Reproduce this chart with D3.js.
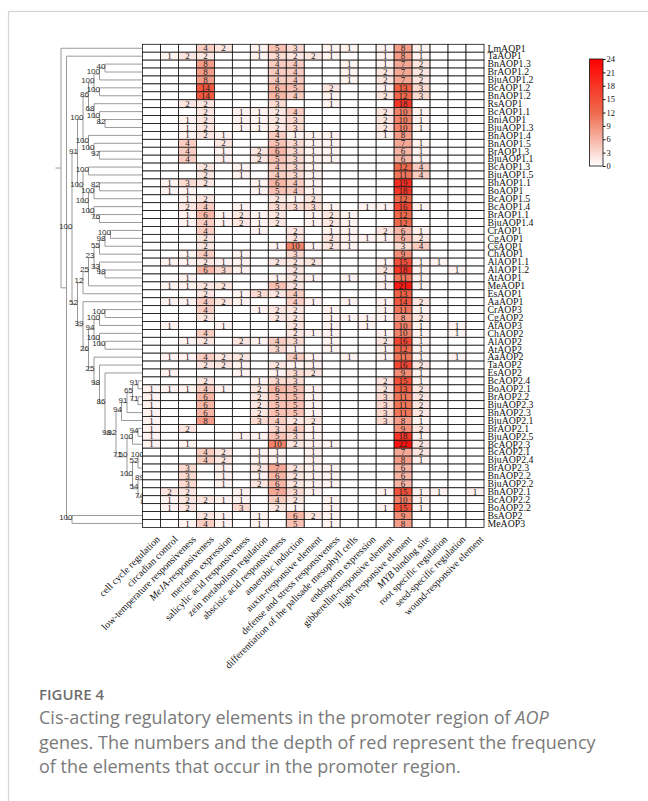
<!DOCTYPE html>
<html><head><meta charset="utf-8">
<script src="https://cdn.jsdelivr.net/npm/d3@7"></script>
<style>body{margin:0;background:#fff}svg{display:block}</style>
</head><body>
<svg id="c" width="648" height="801"></svg>
<script>
// ---------------- DATA ----------------
const genes = ["LmAOP1","TaAOP1","BnAOP1.3","BrAOP1.2","BjuAOP1.2","BcAOP1.2","BnAOP1.2","RsAOP1","BcAOP1.1","BniAOP1","BjuAOP1.3","BnAOP1.4","BnAOP1.5","BrAOP1.3","BjuAOP1.1","BcAOP1.3","BjuAOP1.5","BhAOP1.1","BoAOP1","BcAOP1.5","BcAOP1.4","BrAOP1.1","BjuAOP1.4","CrAOP1","CgAOP1","CsAOP1","ChAOP1","AlAOP1.1","AlAOP1.2","AtAOP1","MeAOP1","EsAOP1","AaAOP1","CrAOP3","CgAOP2","AtAOP3","ChAOP2","AlAOP2","AtAOP2","AaAOP2","TaAOP2","EsAOP2","BcAOP2.4","BoAOP2.1","BrAOP2.2","BjuAOP2.3","BnAOP2.3","BjuAOP2.1","BrAOP2.1","BjuAOP2.5","BcAOP2.3","BcAOP2.1","BjuAOP2.4","BrAOP2.3","BnAOP2.2","BjuAOP2.2","BnAOP2.1","BcAOP2.2","BoAOP2.2","BsAOP2","MeAOP3"];

const elements = ["cell cycle regulation","circadian control","low-temperature responsiveness","MeJA-responsiveness","meristem expression","salicylic acid responsiveness","zein metabolism regulation","abscisic acid responsiveness","anaerobic induction","auxin-responsive element","defense and stress responsiveness","differentiation of the palisade mesophyll cells","endosperm expression","gibberellin-responsive element","light responsive element","MYB binding site","root specific regulation","seed-specific regulation","wound-responsive element"];
const italicWords = ["MeJA","MYB"];

const values = [
[0,0,0,4,2,0,1,5,3,0,1,1,0,1,8,1,0,0,0],
[0,1,2,2,0,0,1,3,2,2,1,0,0,1,8,1,0,0,0],
[0,0,0,8,0,0,0,4,4,0,0,1,0,1,7,2,0,0,0],
[0,0,0,8,0,0,0,4,4,0,0,1,0,2,7,2,0,0,0],
[0,0,0,8,0,0,0,4,4,0,0,1,0,2,7,2,0,0,0],
[0,0,0,14,0,0,0,6,5,0,2,0,0,1,13,3,0,0,0],
[0,0,0,14,0,0,0,6,4,0,1,0,0,2,12,3,0,0,0],
[0,0,2,2,0,0,0,3,0,0,1,0,0,0,18,0,0,0,0],
[0,0,0,2,0,1,1,2,4,0,0,0,0,2,10,1,0,0,0],
[0,0,1,2,0,1,1,2,3,0,0,0,0,2,10,1,0,0,0],
[0,0,1,2,0,1,1,2,3,0,0,0,0,2,10,1,0,0,0],
[0,0,1,2,1,0,0,4,1,1,1,0,0,1,8,0,0,0,0],
[0,0,4,0,2,0,0,5,3,1,1,0,0,0,7,1,0,0,0],
[0,0,4,0,1,0,2,6,3,1,1,0,0,0,6,1,0,0,0],
[0,0,4,0,1,0,2,5,3,1,1,0,0,0,6,1,0,0,0],
[0,0,0,2,0,1,0,4,3,1,0,0,0,0,12,4,0,0,0],
[0,0,0,2,0,1,0,4,3,1,0,0,0,0,11,4,0,0,0],
[0,1,3,2,0,0,1,6,4,1,0,0,0,0,19,0,0,0,0],
[0,1,1,0,0,0,1,5,4,1,0,0,0,0,18,0,0,0,0],
[0,0,1,2,0,0,0,2,1,2,0,0,0,0,12,0,0,0,0],
[0,0,2,4,0,1,0,3,3,3,1,0,1,1,16,1,0,0,0],
[0,0,1,6,1,2,1,2,0,1,2,1,0,0,12,0,0,0,0],
[0,0,1,4,1,2,1,2,0,1,2,1,0,0,12,0,0,0,0],
[0,0,0,4,0,0,1,0,2,0,1,1,0,2,6,1,0,0,0],
[0,0,0,2,0,0,0,0,2,0,2,1,1,1,6,2,0,0,0],
[0,0,0,2,0,0,0,1,10,1,2,1,0,0,3,4,0,0,0],
[0,0,1,4,0,1,0,0,3,0,0,0,0,0,9,0,0,0,0],
[0,1,1,2,1,1,0,2,2,2,0,0,0,1,15,1,1,0,0],
[0,0,0,6,3,1,0,0,2,0,0,0,0,2,18,1,0,1,0],
[0,0,1,0,0,0,0,1,2,1,0,1,0,1,11,1,0,0,0],
[0,1,1,2,2,0,0,5,2,0,0,0,0,1,21,1,0,0,0],
[0,0,0,2,0,1,3,2,4,0,0,0,0,0,13,0,0,0,0],
[0,1,1,4,2,1,0,0,4,1,0,1,0,1,14,2,0,0,0],
[0,0,0,4,0,0,1,2,2,0,1,0,0,1,11,1,0,0,0],
[0,0,0,2,0,0,0,2,2,0,1,1,1,1,8,2,0,0,0],
[0,1,0,0,1,0,0,0,2,0,1,0,1,0,10,1,0,1,0],
[0,0,0,4,0,0,0,0,2,1,1,0,0,1,10,1,0,1,0],
[0,0,1,2,0,2,1,4,3,0,1,0,0,2,16,1,0,0,0],
[0,0,0,0,0,0,0,3,1,0,1,0,0,1,12,1,0,0,0],
[0,1,1,4,2,2,0,0,4,1,0,1,0,1,11,1,0,1,0],
[0,0,0,2,2,1,0,2,1,1,0,0,0,0,16,2,0,0,0],
[0,1,0,0,0,1,0,1,3,2,0,0,0,0,9,1,0,0,0],
[0,0,0,2,0,0,1,3,3,0,0,0,0,2,15,1,0,0,0],
[1,1,1,4,1,0,2,6,5,1,0,0,0,2,13,2,0,0,0],
[1,0,0,6,0,0,2,5,5,1,0,0,0,3,11,2,0,0,0],
[1,0,0,6,0,0,2,5,5,1,0,0,0,3,11,2,0,0,0],
[1,0,0,6,0,0,2,5,5,1,0,0,0,3,11,2,0,0,0],
[1,0,0,8,0,0,3,4,2,2,0,0,0,3,8,1,0,0,0],
[1,0,2,0,0,0,0,3,4,1,0,0,0,0,9,2,0,0,0],
[1,0,0,0,0,1,1,5,3,1,0,0,0,0,18,1,0,0,0],
[1,0,1,0,0,0,0,10,2,1,1,0,0,0,22,2,0,0,0],
[0,0,0,4,2,0,1,1,0,1,0,0,0,0,7,2,0,0,0],
[0,0,0,4,2,0,1,1,0,1,0,0,0,0,8,1,0,0,0],
[0,0,3,0,1,0,2,7,2,1,1,0,0,0,6,0,0,0,0],
[0,0,3,0,1,0,1,6,2,1,1,0,0,0,6,0,0,0,0],
[0,0,3,0,1,0,2,6,2,1,1,0,0,0,6,0,0,0,0],
[0,2,2,0,0,1,0,7,3,1,0,0,0,1,15,1,1,0,1],
[0,1,2,2,1,1,0,4,2,0,1,0,0,0,10,1,0,0,0],
[0,1,2,0,0,3,0,2,1,0,1,0,0,1,15,1,0,0,0],
[0,0,0,2,1,0,1,0,6,2,1,0,0,0,9,0,0,0,0],
[0,0,1,4,1,0,1,0,5,0,1,0,0,0,8,0,0,0,0]
];

// phylogenetic tree (Newick, bootstrap support on internal nodes)
const treeNewick = "((LmAOP1,(TaAOP1,(((((((BnAOP1.3,BrAOP1.2)40,BjuAOP1.2)100,(BcAOP1.2,BnAOP1.2)100)100,(RsAOP1,(BcAOP1.1,(BniAOP1,BjuAOP1.3)82)100)68)86,(BnAOP1.4,(BnAOP1.5,(BrAOP1.3,BjuAOP1.1)97)100)100)100,((BcAOP1.3,BjuAOP1.5)100,(((BhAOP1.1,BoAOP1)82,BcAOP1.5)100,(BcAOP1.4,(BrAOP1.1,BjuAOP1.4)76)100)100)100)91,(((((((CrAOP1,CgAOP1)100,CsAOP1)98,ChAOP1)55,(AlAOP1.1,(AlAOP1.2,AtAOP1)98)33)23,MeAOP1)25,EsAOP1)12,(AaAOP1,((((CrAOP3,CgAOP2)100,AtAOP3)100,(ChAOP2,(AlAOP2,AtAOP2)100)100)94,(AaAOP2,(TaAOP2,(EsAOP2,((((((BcAOP2.4,BoAOP2.1)91,(BrAOP2.2,BjuAOP2.3)71)65,BnAOP2.3)91,BjuAOP2.1)94,((((BrAOP2.1,BjuAOP2.5)94,BcAOP2.3)100,(((BcAOP2.1,BjuAOP2.4)100,BrAOP2.3)52,((BnAOP2.2,BjuAOP2.2)89,(BnAOP2.1,(BcAOP2.2,BoAOP2.2)89)74)54)100)50)71)92)98)86)98)25)26)39)52)100,(BsAOP2,MeAOP3)100);";

const legendTicks = [0,3,6,9,12,15,18,21,24];
const colorStops = [0,12,24];
const colorRange = ["#ffffff","#ef6a4c","#ff0000"];

const captionTitle = "FIGURE 4";
const captionLines = [
  [["Cis-acting regulatory elements in the promoter region of ",false],["AOP",true]],
  [["genes. The numbers and the depth of red represent the frequency",false]],
  [["of the elements that occur in the promoter region.",false]]
];

// ---------------- DRAW ----------------
const svg = d3.select("#c");
const serif = "'Liberation Serif','Times New Roman',serif";
const sans = "'Liberation Sans',Arial,sans-serif";

// frame
svg.append("rect").attr("x",8.5).attr("y",11.5).attr("width",700).attr("height",900)
  .attr("fill","none").attr("stroke","#d4d4d4").attr("stroke-width",1.2);

const x = d3.scaleBand().domain(elements).range([142.5, 484]);
const y = d3.scaleBand().domain(genes).range([44.3, 527.4]);
const color = d3.scaleLinear().domain(colorStops).range(colorRange);
const depthX = d3.scaleLinear().domain([0,1]).range([55.5,61]);

// parse newick
function parseNewick(s){
  let i=0;
  function node(){
    const n={};
    if(s[i]==='('){
      n.children=[];
      i++;
      n.children.push(node());
      while(s[i]===','){i++; n.children.push(node());}
      i++;
    }
    let name='';
    while(i<s.length && !',();'.includes(s[i])) name+=s[i++];
    if(n.children) n.support=name; else n.name=name;
    return n;
  }
  return node();
}
const root = d3.hierarchy(parseNewick(treeNewick));
root.eachAfter(n=>{
  if(!n.children){ n.py = y(n.data.name)+y.bandwidth()/2; n.px = x.range()[0]; }
  else { n.py = (n.children[0].py + n.children[n.children.length-1].py)/2; n.px = depthX(n.depth); }
});

const tree = svg.append("g").attr("stroke","#9a9a9a").attr("stroke-width",1).attr("fill","none");
root.each(n=>{
  if(!n.children) return;
  tree.append("line").attr("x1",n.px).attr("x2",n.px)
    .attr("y1",n.children[0].py).attr("y2",n.children[n.children.length-1].py)
    .attr("stroke",n.depth===0?"#bdbdbd":null).attr("stroke-width",n.depth===0?1.6:null);
  n.children.forEach(c=>{
    tree.append("line").attr("x1",n.px).attr("x2",c.px).attr("y1",c.py).attr("y2",c.py);
  });
});
const bl = svg.append("g").attr("font-family",sans).attr("font-size",8).attr("fill","#333").attr("text-anchor","end");
root.each(n=>{
  if(!n.children || n.depth===0 || !n.data.support) return;
  bl.append("text").attr("x",n.px+0.5).attr("y",n.py+0.5).text(n.data.support);
});

// heatmap
const cells = [];
genes.forEach((g,i)=>elements.forEach((e,j)=>cells.push({g,e,v:values[i][j]})));
const hm = svg.append("g");
hm.selectAll("rect").data(cells).join("rect")
  .attr("x",d=>x(d.e)).attr("y",d=>y(d.g))
  .attr("width",x.bandwidth()).attr("height",y.bandwidth())
  .attr("fill",d=>color(d.v)).attr("stroke","#111").attr("stroke-width",0.8);
hm.selectAll("text").data(cells.filter(d=>d.v>0)).join("text")
  .attr("x",d=>x(d.e)+x.bandwidth()/2).attr("y",d=>y(d.g)+y.bandwidth()/2+3.1)
  .attr("text-anchor","middle").attr("font-family",serif).attr("font-size",9)
  .attr("fill","#222").text(d=>d.v);

// row labels
svg.append("g").selectAll("text").data(genes).join("text")
  .attr("x",487.5).attr("y",d=>y(d)+y.bandwidth()/2+3.3)
  .attr("font-family",serif).attr("font-size",9.8).attr("fill","#111").text(d=>d);

// column labels
const cl = svg.append("g").attr("font-family",serif).attr("font-size",10).attr("fill","#111");
elements.forEach(e=>{
  const t = cl.append("text").attr("text-anchor","end")
    .attr("transform",`translate(${x(e)+x.bandwidth()/2+9},${y.range()[1]+12.5}) rotate(-45)`);
  const iw = italicWords.find(w=>e.startsWith(w));
  if(iw){
    t.append("tspan").attr("font-style","italic").text(iw);
    t.append("tspan").text(e.slice(iw.length));
  } else t.text(e);
});

// legend
const defs = svg.append("defs");
const grad = defs.append("linearGradient").attr("id","lg").attr("x1",0).attr("y1",1).attr("x2",0).attr("y2",0);
colorStops.forEach(v=>grad.append("stop").attr("offset",v/24).attr("stop-color",color(v)));
const ly = d3.scaleLinear().domain([0,24]).range([166,59]);
svg.append("rect").attr("x",589.5).attr("y",ly(24)).attr("width",13.5).attr("height",ly(0)-ly(24))
  .attr("fill","url(#lg)").attr("stroke","#111").attr("stroke-width",0.8);
const ax = svg.append("g").attr("transform","translate(603,0)")
  .call(d3.axisRight(ly).tickValues(legendTicks).tickSize(2.5).tickPadding(1));
ax.select(".domain").remove();
ax.selectAll("text").attr("font-family",serif).attr("font-size",8.5).attr("fill","#111");
ax.selectAll("line").attr("stroke","#111");

// caption
svg.append("text").attr("x",39).attr("y",700).attr("font-family","'Open Sans',sans-serif")
  .attr("font-size",15).attr("font-weight",600).attr("fill","#6e6e6e").text(captionTitle);
captionLines.forEach((ln,i)=>{
  const t = svg.append("text").attr("x",39).attr("y",724+i*24.5)
    .attr("font-family","'Open Sans',sans-serif").attr("font-size",18).attr("fill","#7a7a7a");
  ln.forEach(([s,it])=>t.append("tspan").attr("font-style",it?"italic":null).text(s));
});
</script>
</body></html>
